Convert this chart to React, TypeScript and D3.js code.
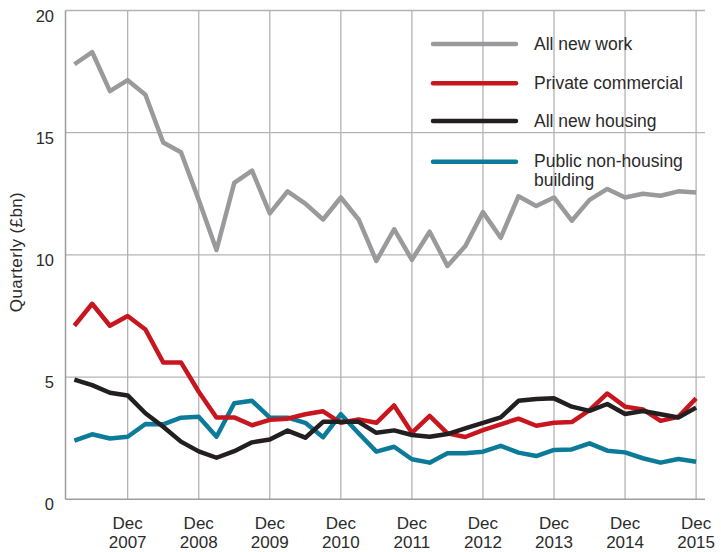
import * as d3 from "d3";

// quarterly values, Mar 2007 .. Dec 2015
const allNewWork = [
  17.8, 18.3, 16.7, 17.15, 16.55, 14.6, 14.2, 12.25, 10.2, 12.95, 13.45, 11.7,
  12.6, 12.1, 11.45, 12.35, 11.45, 9.75, 11.05, 9.8, 10.95, 9.55, 10.35, 11.75,
  10.7, 12.4, 12.0, 12.35, 11.4, 12.25, 12.7, 12.35, 12.5, 12.42, 12.6, 12.55,
];
const privateCommercial = [
  7.1, 8.0, 7.1, 7.5, 6.95, 5.6, 5.6, 4.4, 3.35, 3.35, 3.03, 3.25,
  3.3, 3.48, 3.6, 3.13, 3.27, 3.13, 3.84, 2.72, 3.41, 2.7, 2.55, 2.83,
  3.07, 3.3, 3.01, 3.13, 3.16, 3.65, 4.33, 3.79, 3.68, 3.21, 3.38, 4.13,
];
const allNewHousing = [
  4.9, 4.67, 4.36, 4.25, 3.52, 2.97, 2.36, 1.96, 1.7, 1.97, 2.33, 2.45,
  2.81, 2.52, 3.17, 3.17, 3.17, 2.72, 2.82, 2.63, 2.56, 2.67, 2.9, 3.13,
  3.35, 4.03, 4.1, 4.13, 3.79, 3.62, 3.9, 3.49, 3.61, 3.48, 3.35, 3.75,
];
const publicNonHousing = [
  2.4, 2.66, 2.49, 2.56, 3.08, 3.07, 3.34, 3.38, 2.56, 3.93, 4.03, 3.34,
  3.34, 3.13, 2.54, 3.48, 2.7, 1.95, 2.15, 1.64, 1.5, 1.88, 1.88, 1.95,
  2.19, 1.91, 1.77, 2.02, 2.04, 2.29, 1.99, 1.92, 1.68, 1.5, 1.65, 1.54,
];

const tickYears = [2007, 2008, 2009, 2010, 2011, 2012, 2013, 2014, 2015];
const yTicks = [0, 5, 10, 15, 20];

const series = [
  { name: ["All new work"], values: allNewWork, color: "#9a9a9c" },
  { name: ["Private commercial"], values: privateCommercial, color: "#c8161e" },
  { name: ["All new housing"], values: allNewHousing, color: "#231f20" },
  { name: ["Public non-housing", "building"], values: publicNonHousing, color: "#0c7b9a" },
];
// draw order: gray, teal, red, black on top
const drawOrder = [0, 3, 1, 2];

const width = 721;
const height = 552;
const margin = { top: 10.5, right: 16, bottom: 52.7, left: 65.5 };
const font = "'Liberation Sans', Arial, sans-serif";

export default function App() {
  const x = d3
    .scaleLinear()
    .domain([-0.5, allNewWork.length - 0.5])
    .range([margin.left, width - margin.right]);
  const y = d3
    .scaleLinear()
    .domain([0, 20])
    .range([height - margin.bottom, margin.top]);

  const line = d3
    .line<number>()
    .x((_, i) => x(i))
    .y((d) => y(d));

  const decIndex = (yr: number) => (yr - 2007) * 4 + 3;

  return (
    <svg
      width={width}
      height={height}
      style={{ position: "absolute", left: 0, top: 0, background: "#fff" }}
    >
      {/* grid */}
      {yTicks.slice(1).map((t) => (
        <line
          key={"h" + t}
          x1={x.range()[0]}
          x2={x.range()[1]}
          y1={y(t)}
          y2={y(t)}
          stroke="#b3b3b3"
          strokeWidth={1.3}
        />
      ))}
      {tickYears.map((yr) => (
        <line
          key={"v" + yr}
          x1={x(decIndex(yr))}
          x2={x(decIndex(yr))}
          y1={y(20)}
          y2={y(0)}
          stroke="#b3b3b3"
          strokeWidth={1.3}
        />
      ))}
      {/* axes */}
      <line x1={x.range()[0]} x2={x.range()[0]} y1={y(20)} y2={y(0)} stroke="#9d9d9d" strokeWidth={1.5} />
      <line x1={x.range()[0]} x2={x.range()[1]} y1={y(0)} y2={y(0)} stroke="#9d9d9d" strokeWidth={1.5} />

      {/* y tick labels */}
      {yTicks.map((t) => (
        <text
          key={"yl" + t}
          x={54}
          y={y(t) + 11}
          textAnchor="end"
          fontFamily={font}
          fontSize={16.5}
          fill="#2b2b2b"
        >
          {t}
        </text>
      ))}
      <text
        transform={`translate(22,${252}) rotate(-90)`}
        textAnchor="middle"
        fontFamily={font}
        fontSize={17}
        letterSpacing={0.4}
        fill="#2b2b2b"
      >
        Quarterly (£bn)
      </text>

      {/* x tick labels */}
      {tickYears.map((yr) => (
        <g key={"xl" + yr}>
          <text
            x={x(decIndex(yr))}
            y={528.5}
            textAnchor="middle"
            fontFamily={font}
            fontSize={17}
            fill="#2b2b2b"
          >
            Dec
          </text>
          <text
            x={x(decIndex(yr))}
            y={548}
            textAnchor="middle"
            fontFamily={font}
            fontSize={17}
            fill="#2b2b2b"
          >
            {yr}
          </text>
        </g>
      ))}

      {/* series */}
      {drawOrder.map((k) => (
        <path
          key={"s" + k}
          d={line(series[k].values) ?? ""}
          fill="none"
          stroke={series[k].color}
          strokeWidth={4.5}
          strokeLinejoin="round"
        />
      ))}

      {/* legend */}
      {series.map((s, i) => {
        const ly = [44, 83.3, 121, 161.7][i];
        return (
          <g key={"lg" + i}>
            <line
              x1={433}
              x2={516}
              y1={ly}
              y2={ly}
              stroke={s.color}
              strokeWidth={4.5}
              strokeLinecap="round"
            />
            <text fontFamily={font} fontSize={17.5} fill="#2b2b2b">
              {s.name.map((n, j) => (
                <tspan key={j} x={534} y={ly + 5.5 + j * 18.8}>
                  {n}
                </tspan>
              ))}
            </text>
          </g>
        );
      })}
    </svg>
  );
}
